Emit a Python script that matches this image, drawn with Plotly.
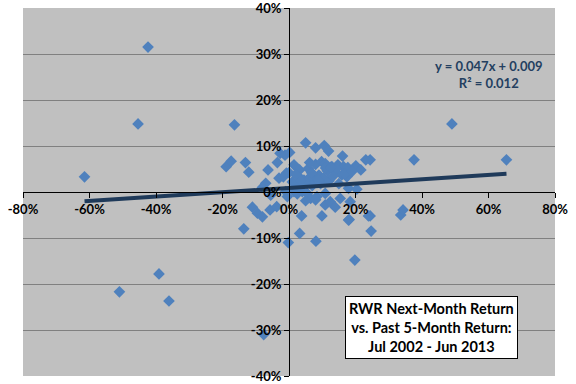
import plotly.graph_objects as go

# Past 5-month return (x) and next-month return (y), in %
past5 = [
    -61.5, -42.4, -45.4, -51.0, -39.1, -36.1, -7.6,
    49.0, 65.4, 37.6, 24.4, 33.6, 34.3, 19.8,
    -16.4, -18.9, -17.4, -13.1, -12.1, -6.3, -3.5, -2.7, -1.2, 0.2,
    -7.0, -8.0, -5.5, -3.0, -1.7, -0.8, -1.0, -0.5,
    -11.0, -9.5, -8.0, -5.7, -3.7, -13.6, -0.2, 3.2, 8.1, 3.8,
    5.0, 8.0, 10.6, 11.9, 16.1,
    1.5, 3.2, 5.8, 8.0, 9.8, 10.9, 12.9, 14.7, 16.4, 17.7, 20.1, 21.6, 23.1,
    3.0, 4.5, 6.0, 7.5, 9.0, 10.4, 13.9, 15.9, 17.4, 17.9, 20.4,
    1.5, 2.5, 4.0, 5.5, 6.5, 8.4, 10.9, 8.0, 5.0, 10.9, 12.4, 13.9, 15.4, 18.4,
    18.1, 9.9, 24.4, 24.7, 17.9, 23.9,
    0.0, 1.0, 2.0, 6.8, 11.5, 12.0, 14.2, 7.0, 9.5, 4.8, 16.8, 19.0, 2.8,
    11.0, 13.2, 6.2, 8.8, 3.6, 15.0, 12.6,
]
next1 = [
    3.3, 31.5, 14.8, -21.7, -17.8, -23.7, -31.0,
    14.8, 7.0, 7.0, 7.0, -5.0, -3.9, -14.8,
    14.6, 5.5, 6.7, 6.4, 4.3, 4.8, 6.4, 8.4, 8.0, 8.6,
    1.9, 1.0, -0.7, 3.0, 3.3, 4.1, 0.1, -1.0,
    -3.3, -4.6, -5.4, -3.9, -3.2, -8.0, -11.0, -9.0, -10.7, -5.2,
    10.7, 9.6, 10.1, 8.9, 7.8,
    5.9, 4.8, 5.1, 6.0, 6.6, 6.2, 5.5, 5.9, 5.5, 5.3, 5.7, 4.8, 7.0,
    3.3, 2.6, 3.0, 3.0, 3.7, 3.0, 4.4, 3.7, 3.3, 0.8, 0.6,
    0.1, -0.4, 0.1, -0.3, -1.4, -1.0, -0.3, -1.7, -1.9, -2.8, -2.1, -3.3, -1.4, -2.1,
    -6.0, -5.2, -5.2, -8.5, -6.1, -5.2,
    4.2, 2.2, 3.8, 4.2, 4.6, 2.4, 5.0, 1.4, 1.8, 2.0, 3.9, 4.5, 1.2,
    5.2, 3.4, 6.4, 2.6, 2.4, 1.8, 5.4,
]

slope = 0.047
intercept = 0.009

x_ticks = [-80, -60, -40, -20, 0, 20, 40, 60, 80]
x_tick_labels = ["-80%", "-60%", "-40%", "-20%", "0%", "20%", "40%", "60%", "80%"]
y_ticks = [-40, -30, -20, -10, 0, 10, 20, 30, 40]
y_tick_labels = ["-40%", "-30%", "-20%", "-10%", "0%", "10%", "20%", "30%", "40%"]

xs = [v / 100 for v in past5]
ys = [v / 100 for v in next1]
tx = [min(xs), max(xs)]
ty = [slope * t + intercept for t in tx]

fig = go.Figure()
fig.add_trace(go.Scatter(
    x=xs, y=ys, mode="markers",
    marker=dict(symbol="diamond", size=9, color="#4F81BD"),
    showlegend=False,
))
fig.add_trace(go.Scatter(
    x=tx, y=ty, mode="lines",
    line=dict(color="#1F3A5A", width=4),
    hoverinfo="skip", showlegend=False,
))

font_fam = "Lato, 'Open Sans', Arial, sans-serif"
tick_font = dict(family=font_fam, size=13, color="black", weight="bold")

fig.update_layout(
    width=576, height=384,
    margin=dict(l=23, r=21, t=8, b=8),
    paper_bgcolor="white",
    plot_bgcolor="#C0C0C0",
    font=tick_font,
    xaxis=dict(
        range=[-0.8, 0.8],
        tickvals=[v / 100 for v in x_ticks], ticktext=x_tick_labels,
        showgrid=False, zeroline=False,
        showline=True, linecolor="black", linewidth=1,
        ticks="outside", ticklen=5, tickcolor="black",
        anchor="free", position=0.5,
        ticklabeloverflow="allow", automargin=False,
        tickfont=tick_font,
    ),
    yaxis=dict(
        range=[-0.4, 0.4],
        tickvals=[v / 100 for v in y_ticks], ticktext=y_tick_labels,
        showgrid=True, gridcolor="#808080", gridwidth=1, zeroline=False,
        showline=True, linecolor="black", linewidth=1,
        ticks="outside", ticklen=5, tickcolor="black",
        anchor="free", position=0.5,
        ticklabeloverflow="allow", automargin=False,
        tickfont=tick_font,
    ),
    annotations=[
        dict(
            x=0.6, y=0.255, xref="x", yref="y",
            text="y = 0.047x + 0.009<br>R² = 0.012",
            showarrow=False, align="center",
            font=dict(family=font_fam, size=13, color="#243F60", weight="bold"),
        ),
        dict(
            x=0.43, y=-0.295, xref="x", yref="y",
            text="RWR Next-Month Return<br>vs. Past 5-Month Return:<br>Jul 2002 - Jun 2013",
            showarrow=False, align="center",
            bgcolor="white", bordercolor="black", borderwidth=1, borderpad=3,
            font=dict(family=font_fam, size=14.5, color="black", weight="bold"),
        ),
    ],
)

fig.write_html(
    "out.html",
    config={"displayModeBar": False},
    post_script="document.body.style.margin='0';document.body.style.overflow='hidden';",
)
